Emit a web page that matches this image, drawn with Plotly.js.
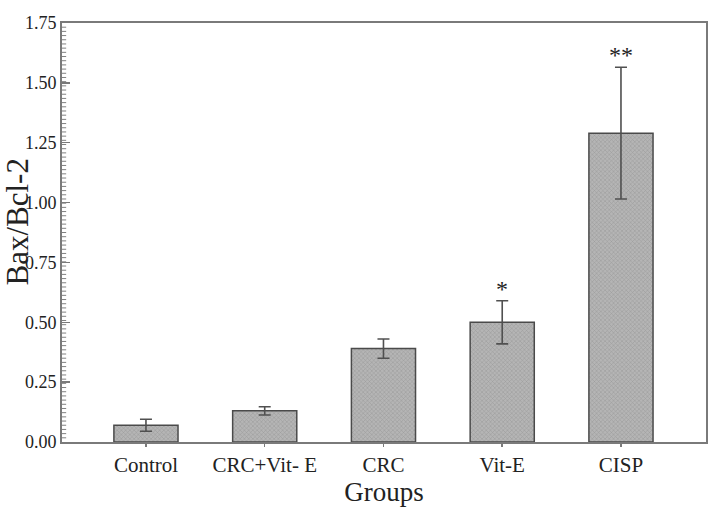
<!DOCTYPE html>
<html>
<head>
<meta charset="utf-8">
<script src="https://cdn.plot.ly/plotly-3.0.1.min.js"></script>
<style>html,body{margin:0;padding:0;background:#fff;}#chart{width:716px;height:513px;}</style>
</head>
<body>
<div id="chart"></div>
<script>
const groups = ["Control", "CRC+Vit- E", "CRC", "Vit-E", "CISP"];
const ratio = [0.07, 0.13, 0.39, 0.50, 1.29];
const sem = [0.025, 0.017, 0.04, 0.09, 0.275];
const marks = ["", "", "", "*", "**"];
const yTitle = "Bax/Bcl-2";
const xTitle = "Groups";

const serif = "Liberation Serif, Times New Roman, serif";
const yMax = 1.75;
const minorStep = yMax / 100;

const trace = {
  type: "bar",
  x: groups,
  y: ratio,
  width: 0.54,
  marker: {
    color: "#b5b5b5",
    line: {color: "#4a4a4a", width: 1.5},
    pattern: {shape: "x", fillmode: "overlay", fgcolor: "#7a7a7a", size: 3, solidity: 0.3}
  },
  error_y: {type: "data", array: sem, visible: true, color: "#505050", thickness: 1.6, width: 6},
  hoverinfo: "skip"
};

const annotations = [];
groups.forEach((g, i) => {
  if (marks[i]) {
    annotations.push({
      x: g, y: ratio[i] + sem[i], xref: "x", yref: "y",
      text: marks[i], showarrow: false, yanchor: "bottom", yshift: -3,
      font: {family: serif, size: 24, color: "#222"}
    });
  }
});
annotations.push({
  x: 0, y: 0.5, xref: "paper", yref: "paper",
  text: yTitle, textangle: -90, showarrow: false,
  xanchor: "center", yanchor: "middle", xshift: -45, yshift: 10,
  font: {family: serif, size: 31, color: "#222"}
});

// ruler-style minor ticks along the left axis, placed through the y scale
const shapes = [];
for (let k = 1; k < 100; k++) {
  shapes.push({
    type: "line", xref: "x domain", yref: "y",
    x0: 0, x1: 0.0065, y0: k * minorStep, y1: k * minorStep,
    line: {color: "#808080", width: 1}, layer: "above"
  });
}

const layout = {
  width: 716, height: 513,
  margin: {l: 62, r: 10, t: 23, b: 71},
  paper_bgcolor: "#fff", plot_bgcolor: "#fff",
  showlegend: false,
  font: {family: serif, color: "#222"},
  xaxis: {
    type: "category",
    range: [-0.707, 4.716],
    showgrid: false, zeroline: false,
    showline: true, linecolor: "#7a7a7a", linewidth: 2, mirror: true,
    ticks: "outside", ticklen: 3, tickcolor: "#7a7a7a", tickwidth: 1.5,
    tickfont: {family: serif, size: 21, color: "#222"},
    title: {text: xTitle, font: {family: serif, size: 27, color: "#222"}, standoff: 2}
  },
  yaxis: {
    range: [0, yMax],
    showgrid: false, zeroline: false,
    showline: true, linecolor: "#7a7a7a", linewidth: 2, mirror: true,
    tick0: 0, dtick: 0.25, tickformat: ".2f",
    ticks: "inside", ticklen: 8, tickcolor: "#7a7a7a", tickwidth: 1.5,
    tickfont: {family: serif, size: 18, color: "#222"}
  },
  shapes: shapes,
  annotations: annotations
};

Plotly.newPlot("chart", [trace], layout, {displayModeBar: false, staticPlot: true});
</script>
</body>
</html>
